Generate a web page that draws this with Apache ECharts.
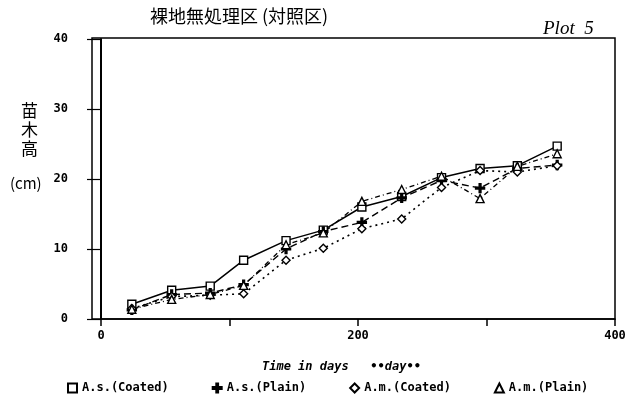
<!DOCTYPE html>
<html>
<head>
<meta charset="utf-8">
<script src="https://cdn.jsdelivr.net/npm/echarts@6/dist/echarts.min.js"></script>
<style>html,body{margin:0;padding:0;background:#fff}#c{width:632px;height:412px}</style>
</head>
<body>
<div id="c"></div>
<script>
// Data
const days = [24, 55, 85, 111, 144, 173, 203, 234, 265, 295, 324, 355];
const asCoated = [2.1, 4.1, 4.7, 8.4, 11.2, 12.7, 16.0, 17.5, 20.2, 21.5, 21.9, 24.7];
const asPlain  = [1.3, 3.5, 3.7, 4.9, 10.0, 12.5, 13.8, 17.3, 19.8, 18.7, 21.5, 22.0];
const amCoated = [1.5, 3.2, 3.4, 3.6, 8.4, 10.1, 12.9, 14.3, 18.8, 21.2, 21.0, 21.9];
const amPlain  = [1.4, 2.8, 3.5, 4.8, 10.6, 12.3, 16.8, 18.5, 20.4, 17.2, 21.8, 23.6];
const seriesNames = ['A.s.(Coated)', 'A.s.(Plain)', 'A.m.(Coated)', 'A.m.(Plain)'];
const xTickLabels = ['0', '200', '400'];
const yTicks = [0, 10, 20, 30, 40];

const plusPath = 'path://M4,0H6V4H10V6H6V10H4V6H0V4H4Z';
const pairs = v => days.map((d, i) => [d, v[i]]);

const chart = echarts.init(document.getElementById('c'), null, {renderer: 'canvas'});
const monoFont = '"DejaVu Sans Mono", monospace';

const mk = (name, vals, symbol, fill, ltype, lw) => ({
  name: name,
  type: 'line',
  data: pairs(vals),
  symbol: symbol,
  symbolSize: symbol === plusPath ? 9 : 8,
  itemStyle: {color: fill, borderColor: '#000', borderWidth: 1.4},
  lineStyle: {color: '#000', width: lw, type: ltype},
  z: 3
});

chart.setOption({
  animation: false,
  backgroundColor: '#fff',
  grid: {left: 101, right: 17, top: 39, bottom: 93},
  xAxis: {
    type: 'value', min: 0, max: 400, interval: 100,
    axisLine: {show: true, lineStyle: {color: '#000', width: 1.6}},
    axisTick: {show: true, length: 7, lineStyle: {color: '#000', width: 1.5}},
    splitLine: {show: false},
    axisLabel: {
      margin: 11, color: '#000', fontFamily: monoFont, fontWeight: 'bold', fontSize: 12,
      formatter: v => xTickLabels.indexOf(String(v)) >= 0 ? String(v) : ''
    }
  },
  yAxis: {
    type: 'value', min: 0, max: 40, interval: 10,
    axisLine: {show: true, lineStyle: {color: '#000', width: 2}},
    axisTick: {show: true, length: 14, lineStyle: {color: '#000', width: 1.2}},
    splitLine: {show: false},
    axisLabel: {
      margin: 33, color: '#000', fontFamily: monoFont, fontWeight: 'bold', fontSize: 12,
      formatter: v => yTicks.indexOf(v) >= 0 ? String(v) : ''
    }
  },
  legend: {
    left: 62, top: 377, itemWidth: 9, itemHeight: 9, itemGap: 43,
    textStyle: {color: '#000', fontFamily: monoFont, fontWeight: 'bold', fontSize: 12},
    data: [
      {name: seriesNames[0], icon: 'rect'},
      {name: seriesNames[1], icon: plusPath},
      {name: seriesNames[2], icon: 'diamond'},
      {name: seriesNames[3], icon: 'triangle'}
    ]
  },
  graphic: [
    {type: 'rect', shape: {x: 92, y: 38, width: 523, height: 281}, style: {fill: 'none', stroke: '#000', lineWidth: 1.5}, silent: true, z: 1},
    {type: 'text', left: 150, top: 7, style: {text: '裸地無処理区 (対照区)', font: '18px "Noto Sans CJK JP"', fill: '#000'}},
    {type: 'text', left: 543, top: 19, style: {text: 'Plot  5', font: 'italic 19px "Liberation Serif"', fill: '#000'}},
    {type: 'text', left: 21, top: 101, style: {text: '苗\n木\n高', font: '17px "Noto Sans CJK JP"', lineHeight: 19, fill: '#000'}},
    {type: 'text', left: 10, top: 176, style: {text: '(cm)', font: '15px "Noto Sans CJK JP"', fill: '#000'}},
    {type: 'text', left: 262, top: 361, style: {text: 'Time in days   ••day••', font: 'italic bold 12px "DejaVu Sans Mono"', fill: '#000'}}
  ],
  series: [
    mk(seriesNames[0], asCoated, 'rect', '#fff', 'solid', 1.5),
    mk(seriesNames[1], asPlain, plusPath, '#000', [7, 4], 1.4),
    mk(seriesNames[2], amCoated, 'diamond', '#fff', [2, 4], 1.6),
    mk(seriesNames[3], amPlain, 'triangle', '#fff', [5, 3, 1, 3], 1.3)
  ]
});
</script>
</body>
</html>
